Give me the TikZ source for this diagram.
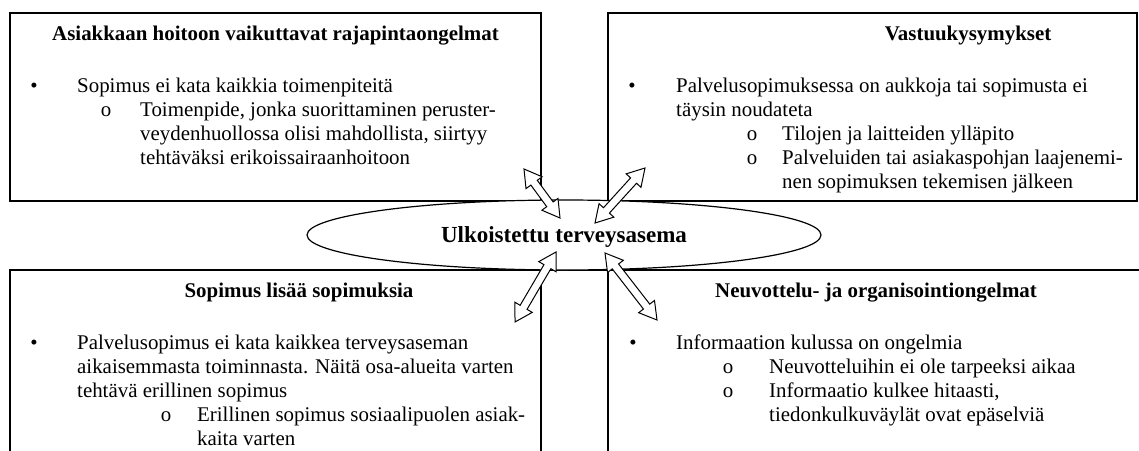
\documentclass[tikz,border=0pt]{standalone}
\usepackage{fontspec}
\setmainfont{Liberation Serif}
\usetikzlibrary{calc}
\newcommand\blockarrow[2]{%
  \draw[blockarr] (#1)
    -- ($(#1)!17pt!(#2)!10pt!90:(#2)$)
    -- ($(#1)!17pt!(#2)!4pt!90:(#2)$)
    -- ($(#2)!17pt!(#1)!4pt!-90:(#1)$)
    -- ($(#2)!17pt!(#1)!10pt!-90:(#1)$)
    -- (#2)
    -- ($(#2)!17pt!(#1)!10pt!90:(#1)$)
    -- ($(#2)!17pt!(#1)!4pt!90:(#1)$)
    -- ($(#1)!17pt!(#2)!4pt!-90:(#2)$)
    -- ($(#1)!17pt!(#2)!10pt!-90:(#2)$)
    -- cycle;}
\begin{document}
\begin{tikzpicture}[x=1pt,y=-1pt,
  box/.style={draw,line width=1.3pt},
  body/.style={anchor=base west,inner sep=0pt,font=\fontsize{20.9}{24}\selectfont},
  ttl/.style={anchor=base,inner sep=0pt,font=\fontsize{20.9}{24}\selectfont\bfseries},
  bul/.style={anchor=base,inner sep=0pt,font=\fontsize{20.9}{24}\selectfont},
  blockarr/.style={draw,fill=white,line width=1pt,line join=miter},
  hub/.style={draw,line width=1.2pt,fill=white}]
\useasboundingbox (0,0) rectangle (1139,450);
\clip (0,0) rectangle (1139,450);
% boxes
\draw[box] (10,13) rectangle (541,201);
\draw[box] (608,13) rectangle (1137,201);
\draw[box] (10,270) rectangle (541,470);
\draw[box] (608,270) rectangle (1160,470);
\draw[box] (541,201) -- (608,201);
\draw[box] (541,270) -- (608,270);
% central ellipse
\draw[hub] (564,235) ellipse [x radius=257pt, y radius=35pt];
\node[inner sep=0pt,font=\fontsize{23}{26}\selectfont\bfseries] (hub) at (564,237) {Ulkoistettu terveysasema};
% top left
\node[ttl] (tlT) at (275.5,40) {Asiakkaan hoitoon vaikuttavat rajapintaongelmat};
\node[bul] (tlb) at (34,92) {•};
\node[body] (tl1) at (77,92) {Sopimus ei kata kaikkia toimenpiteitä};
\node[bul] (tlo) at (106,116) {o};
\node[body] (tl2) at (140,116) {Toimenpide, jonka suorittaminen peruster-};
\node[body] (tl3) at (140,140) {veydenhuollossa olisi mahdollista, siirtyy};
\node[body] (tl4) at (140,164) {tehtäväksi erikoissairaanhoitoon};
% top right
\node[ttl] (trT) at (968,40) {Vastuukysymykset};
\node[bul] (trb) at (632,92) {•};
\node[body] (tr1) at (676,92) {Palvelusopimuksessa on aukkoja tai sopimusta ei};
\node[body] (tr2) at (676,116) {täysin noudateta};
\node[bul] (tro1) at (752,140) {o};
\node[body] (tr3) at (782,140) {Tilojen ja laitteiden ylläpito};
\node[bul] (tro2) at (752,164) {o};
\node[body] (tr4) at (782,164) {Palveluiden tai asiakaspohjan laajenemi-};
\node[body] (tr5) at (782,188) {nen sopimuksen tekemisen jälkeen};
% bottom left
\node[ttl] (blT) at (299,297) {Sopimus lisää sopimuksia};
\node[bul] (blb) at (34,349) {•};
\node[body] (bl1) at (77,349) {Palvelusopimus ei kata kaikkea terveysaseman};
\node[body] (bl2) at (77,373) {aikaisemmasta toiminnasta. Näitä osa-alueita varten};
\node[body] (bl3) at (77,397) {tehtävä erillinen sopimus};
\node[bul] (blo) at (166,421) {o};
\node[body] (bl4) at (197,421) {Erillinen sopimus sosiaalipuolen asiak-};
\node[body] (bl5) at (197,445) {kaita varten};
% bottom right
\node[ttl] (brT) at (876,297) {Neuvottelu- ja organisointiongelmat};
\node[bul] (brb) at (633,349) {•};
\node[body] (br1) at (676,349) {Informaation kulussa on ongelmia};
\node[bul] (bro1) at (728,373) {o};
\node[body] (br2) at (769,373) {Neuvotteluihin ei ole tarpeeksi aikaa};
\node[bul] (bro2) at (728,397) {o};
\node[body] (br3) at (769,397) {Informaatio kulkee hitaasti,};
\node[body] (br4) at (769,421) {tiedonkulkuväylät ovat epäselviä};
% arrow ends
\coordinate (a1) at (524,169);
\coordinate (b1) at (560,218);
\coordinate (a2) at (645,168);
\coordinate (b2) at (595,223);
\coordinate (a3) at (515,322);
\coordinate (b3) at (556,252);
\coordinate (a4) at (657,320);
\coordinate (b4) at (605,253);
\blockarrow{a1}{b1}
\blockarrow{a2}{b2}
\blockarrow{a3}{b3}
\blockarrow{a4}{b4}
\end{tikzpicture}
\end{document}
